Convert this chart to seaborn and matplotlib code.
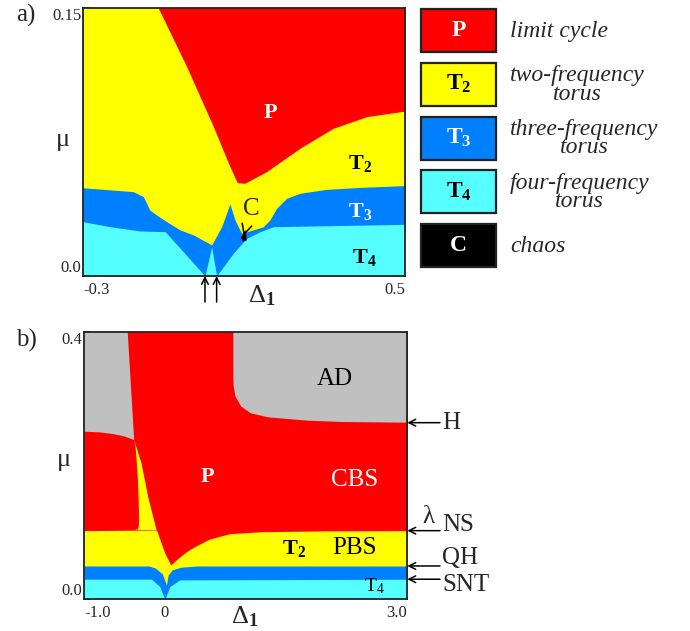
import numpy as np
import matplotlib
matplotlib.use('Agg')
import matplotlib.pyplot as plt
from matplotlib.patches import Rectangle
import seaborn as sns

# colours of the dynamical regimes
regime_colors = {'P': '#FF0000', 'T2': '#FFFF00', 'T3': '#0080FF',
                 'T4': '#55FFFF', 'C': '#000000', 'AD': '#C0C0C0'}

# ---- panel a) : region boundaries (delta_1, mu) ----
a_p_delta = [-0.113, -0.0425, 0.0238, 0.065, 0.0834, 0.102, 0.156, 0.239, 0.322, 0.405, 0.5]
a_p_mu = [0.15, 0.1172, 0.0836, 0.0612, 0.0522, 0.0519, 0.0584, 0.0715, 0.0827, 0.0892, 0.0923]

a_t2_delta = [-0.3, -0.175, -0.150, -0.134, -0.117, -0.092, -0.059, -0.026, 0.0196, 0.0445,
              0.0651, 0.0776, 0.094, 0.123, 0.148, 0.164, 0.181, 0.206, 0.239, 0.305, 0.388, 0.5]
a_t2_mu = [0.0494, 0.0472, 0.0444, 0.0369, 0.0341, 0.0304, 0.0258, 0.0230, 0.0174, 0.0276,
           0.0403, 0.0313, 0.0239, 0.0258, 0.0276, 0.0313, 0.0379, 0.0435, 0.0463, 0.0485, 0.0496, 0.0506]

a_t3_delta = [-0.3, -0.233, -0.158, -0.096, -0.055, 0.003, 0.0196, 0.032, 0.0734, 0.1066,
              0.140, 0.173, 0.322, 0.5]
a_t3_mu = [0.0304, 0.0276, 0.0252, 0.0248, 0.0146, 0.0, 0.0164, 0.0, 0.0127, 0.0211,
           0.0248, 0.0276, 0.0282, 0.0289]

a_chaos_delta = [0.092, 0.104, 0.107, 0.098]
a_chaos_mu = [0.0215, 0.0258, 0.0200, 0.0190]

# ---- panel b) ----
b_ad_left_delta = [-1.0, -0.46, -0.379, -0.5, -0.64, -0.8, -1.0]
b_ad_left_mu = [0.4, 0.4, 0.238, 0.2435, 0.247, 0.2495, 0.2505]

b_ad_right_delta = [0.848, 3.0, 3.0, 2.2, 1.77, 1.28, 1.066, 0.946, 0.875, 0.852, 0.848]
b_ad_right_mu = [0.4, 0.4, 0.264, 0.265, 0.267, 0.272, 0.278, 0.288, 0.303, 0.318, 0.33]

b_p_delta = [-1.0, -0.103, 0.0, 0.074, 0.164, 0.267, 0.37, 0.55, 0.8, 1.2, 2.0, 3.0]
b_p_mu = [0.1026, 0.1036, 0.0688, 0.0513, 0.0613, 0.0712, 0.0787, 0.090, 0.098, 0.101, 0.1023, 0.1026]

b_wedge_delta = [-0.379, -0.288, -0.206, -0.103, -0.37, -0.335, -0.322, -0.317, -0.325, -0.333, -0.346, -0.362]
b_wedge_mu = [0.238, 0.203, 0.153, 0.1036, 0.1036, 0.1045, 0.109, 0.1185, 0.153, 0.178, 0.203, 0.228]

b_t2_delta = [-1.0, -0.2, -0.12, -0.03, 0.02, 0.04, 0.09, 0.2, 0.4, 3.0]
b_t2_mu = [0.0498, 0.0498, 0.047, 0.038, 0.021, 0.036, 0.044, 0.048, 0.0498, 0.0498]

b_t3_delta = [-1.0, -0.164, -0.062, 0.0, 0.062, 0.185, 3.0]
b_t3_mu = [0.030, 0.030, 0.019, 0.0, 0.019, 0.029, 0.030]

# legend entries
legend_keys = ['P', 'T2', 'T3', 'T4', 'C']
legend_symbols = ['P', r'$\mathbf{T}_\mathbf{2}$', r'$\mathbf{T}_\mathbf{3}$', r'$\mathbf{T}_\mathbf{4}$', 'C']
legend_symbol_colors = ['white', 'black', 'white', 'black', 'white']
legend_texts = ['limit cycle', 'two-frequency\ntorus', 'three-frequency\ntorus',
                'four-frequency\ntorus', 'chaos']

# boundary labels on the right of panel b
b_marks = ['H', 'NS', 'QH', 'SNT']
b_marks_mu = [0.264, 0.1026, 0.0498, 0.030]

sns.set_theme(style='white')
plt.rcParams['font.family'] = ['Liberation Serif', 'DejaVu Serif']
plt.rcParams['mathtext.fontset'] = 'custom'
plt.rcParams['mathtext.rm'] = 'Liberation Serif'
plt.rcParams['mathtext.bf'] = 'Liberation Serif:bold'
plt.rcParams['mathtext.it'] = 'Liberation Serif:italic'

fig = plt.figure(figsize=(6.9, 6.31), dpi=100)
ax_a = fig.add_axes([83 / 690, 1 - 276 / 631, 322 / 690, 268 / 631])
ax_b = fig.add_axes([84 / 690, 1 - 599.3 / 631, 323.3 / 690, 267.6 / 631])
ax_leg = fig.add_axes([412 / 690, 1 - 272 / 631, 278 / 690, 268 / 631])


def style_axes(ax, xlim, ylim, yticks, ylabels, xticks, xlabels):
    ax.set_xlim(*xlim)
    ax.set_ylim(*ylim)
    for s in ax.spines.values():
        s.set_color('#222222')
        s.set_linewidth(1.3)
    ax.set_yticks(yticks)
    ax.set_yticklabels(ylabels)
    ax.set_xticks(xticks)
    ax.set_xticklabels(xlabels)
    ax.tick_params(axis='y', direction='in', length=4, width=1.1, color='#222222',
                   left=True, pad=1, labelsize=12)
    ax.tick_params(axis='x', length=0, pad=4, labelsize=12)
    yl = ax.get_yticklabels()
    yl[0].set_va('bottom')
    yl[-1].set_va('top')
    xl = ax.get_xticklabels()
    xl[0].set_ha('left')
    xl[-1].set_ha('right')
    ax.grid(False)


# ---------------- panel a ----------------
ax = ax_a
ax.fill_between([-0.3, 0.5], 0, 0.15, color=regime_colors['T4'], lw=0)
ax.fill_between(a_t3_delta, a_t3_mu, 0.15, color=regime_colors['T3'], lw=0)
ax.fill_between(a_t2_delta, a_t2_mu, 0.15, color=regime_colors['T2'], lw=0)
ax.fill_between(a_p_delta, a_p_mu, 0.15, color=regime_colors['P'], lw=0)
ax.fill(a_chaos_delta, a_chaos_mu, color=regime_colors['C'], lw=0)
style_axes(ax, (-0.3, 0.5), (0, 0.15), list(np.round(np.arange(0, 0.1501, 0.015), 3)),
           ['0.0'] + [''] * 9 + ['0.15'], [-0.3, 0.5], ['-0.3', '0.5'])

ax.text(0.165, 0.091, 'P', color='white', fontsize=16, fontweight='bold', ha='center', va='center')
ax.text(0.388, 0.063, r'$\mathbf{T}_\mathbf{2}$', color='black', fontsize=16, ha='center', va='center')
ax.text(0.388, 0.036, r'$\mathbf{T}_\mathbf{3}$', color='white', fontsize=16, ha='center', va='center')
ax.text(0.40, 0.0105, r'$\mathbf{T}_\mathbf{4}$', color='black', fontsize=16, ha='center', va='center')
ax.annotate('C', xy=(0.099, 0.0225), xytext=(0.119, 0.0375), fontsize=18, ha='center', va='center',
            arrowprops=dict(arrowstyle='->', color='black', lw=1.1, shrinkA=7, shrinkB=0))
for d in [0.003, 0.032]:
    ax.annotate('', xy=(d, 0), xycoords='data', xytext=(d, -0.097),
                textcoords=('data', 'axes fraction'), annotation_clip=False,
                arrowprops=dict(arrowstyle='->', color='black', lw=1.1, shrinkA=0, shrinkB=0))
ax.text(0.556, -0.072, r'$\mathrm{\Delta}_\mathbf{1}$', transform=ax.transAxes, fontsize=19,
        ha='center', va='center')
ax.text(-0.062, 0.507, 'μ', transform=ax.transAxes, fontsize=19, ha='center', va='center')

# ---------------- panel b ----------------
ax = ax_b
ax.fill_between([-1.0, 3.0], 0, 0.4, color=regime_colors['T4'], lw=0)
ax.fill_between(b_t3_delta, b_t3_mu, 0.4, color=regime_colors['T3'], lw=0)
ax.fill_between(b_t2_delta, b_t2_mu, 0.4, color=regime_colors['T2'], lw=0)
ax.fill_between(b_p_delta, b_p_mu, 0.4, color=regime_colors['P'], lw=0)
ax.fill(b_wedge_delta, b_wedge_mu, color=regime_colors['T2'], lw=0)
ax.fill(b_ad_left_delta, b_ad_left_mu, color=regime_colors['AD'], lw=0)
ax.fill(b_ad_right_delta, b_ad_right_mu, color=regime_colors['AD'], lw=0)
style_axes(ax, (-1.0, 3.0), (0, 0.4), list(np.round(np.arange(0, 0.401, 0.04), 2)),
           ['0.0'] + [''] * 9 + ['0.4'], [-1.0, 0.0, 3.0], ['-1.0', '0', '3.0'])

ax.text(2.10, 0.329, 'AD', color='black', fontsize=18, ha='center', va='center')
ax.text(0.53, 0.183, 'P', color='white', fontsize=16, fontweight='bold', ha='center', va='center')
ax.text(2.35, 0.178, 'CBS', color='white', fontsize=18, ha='center', va='center')
ax.text(1.60, 0.0762, r'$\mathbf{T}_\mathbf{2}$', color='black', fontsize=16, ha='center', va='center')
ax.text(2.35, 0.0762, 'PBS', color='black', fontsize=18, ha='center', va='center')
ax.text(2.59, 0.019, r'$\mathrm{T}_\mathrm{4}$', color='black', fontsize=14, ha='center', va='center')

label_offsets = {'H': 0.0, 'NS': 0.009, 'QH': 0.012, 'SNT': -0.0085}
for name, m in zip(b_marks, b_marks_mu):
    ax.annotate('', xy=(3.0, m), xycoords='data', xytext=(1.101, m),
                textcoords=('axes fraction', 'data'), annotation_clip=False,
                arrowprops=dict(arrowstyle='->', color='black', lw=1.1, shrinkA=0, shrinkB=0))
    ax.text(1.107, m + label_offsets[name], name, transform=ax.get_yaxis_transform(),
            fontsize=18, ha='left', va='center')
ax.text(1.064, 0.1235, 'λ', transform=ax.get_yaxis_transform(), fontsize=18,
        ha='center', va='center')
ax.text(0.498, -0.066, r'$\mathrm{\Delta}_\mathbf{1}$', transform=ax.transAxes, fontsize=19,
        ha='center', va='center')
ax.text(-0.062, 0.52, 'μ', transform=ax.transAxes, fontsize=19, ha='center', va='center')

# ---------------- legend ----------------
ax = ax_leg
ax.set_xlim(412, 690)
ax.set_ylim(272, 4)
ax.axis('off')
for i, key in enumerate(legend_keys):
    top = 9 + i * 53.8
    ax.add_patch(Rectangle((421, top), 75, 43, facecolor=regime_colors[key],
                           edgecolor='#222222', lw=1.6))
    ax.text(458.5, top + 21.5, legend_symbols[i], color=legend_symbol_colors[i],
            fontsize=17, fontweight='bold', ha='center', va='center')
    ax.text(510, top + 22, legend_texts[i], fontsize=17, style='italic', ha='left',
            va='center', multialignment='center', linespacing=0.85)

fig.text(26 / 690, 1 - 15 / 631, 'a)', fontsize=18, ha='center', va='center')
fig.text(26 / 690, 1 - 340 / 631, 'b)', fontsize=18, ha='center', va='center')

fig.savefig('out.png', dpi=100)
